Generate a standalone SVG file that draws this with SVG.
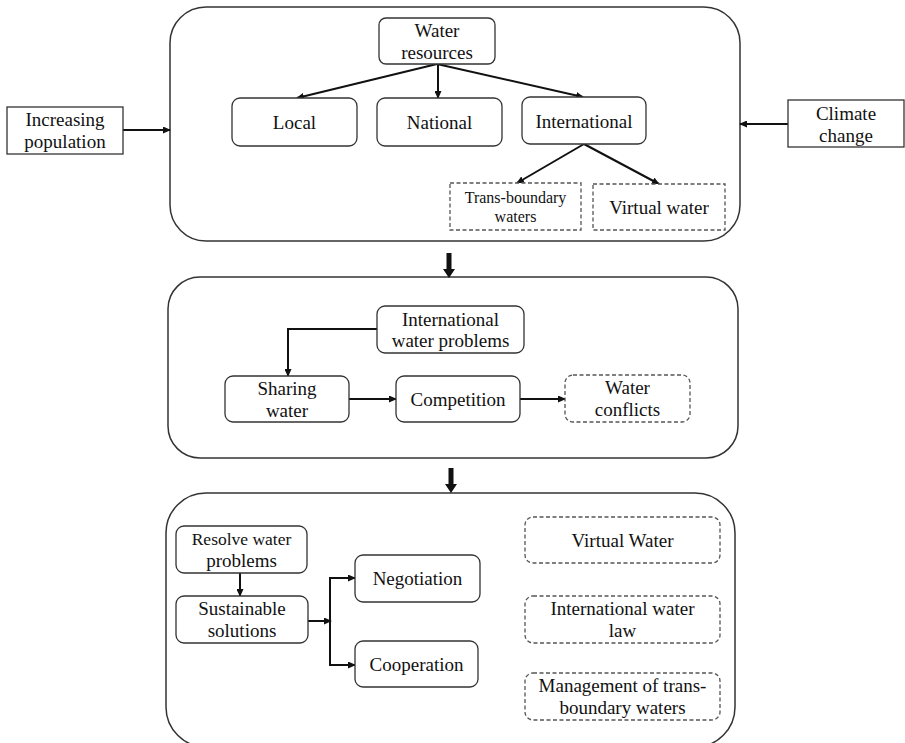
<svg xmlns="http://www.w3.org/2000/svg" width="905" height="743" viewBox="0 0 905 743">
<style>
.bg{fill:#fff}
.cont{fill:none;stroke:#333;stroke-width:1.5}
.box{fill:#fff;stroke:#333;stroke-width:1.3}
.dash{fill:#fff;stroke:#555;stroke-width:1.3;stroke-dasharray:4 2.5}
.t{font-size:19px;fill:#111;text-anchor:middle}
.s{font-size:16px}
.r{font-size:17.5px}
.c{fill:none;stroke:#111;stroke-width:2}
</style>
<defs>
<marker id="ah" markerUnits="userSpaceOnUse" markerWidth="8" markerHeight="7" refX="7" refY="3.5" orient="auto">
<path d="M0,0 L8,3.5 L0,7 z" fill="#111"/>
</marker>
<path id="thick" d="M-2.5,0 H2.5 V16 H6 L0,25 L-6,16 H-2.5 z" fill="#111"/>
</defs>
<rect class="bg" x="0" y="0" width="905" height="743"/>

<g id="containers">
<rect id="top-panel" class="cont" x="170" y="7" width="570" height="234" rx="36"/>
<rect id="middle-panel" class="cont" x="168" y="277" width="570" height="181" rx="32"/>
<rect id="bottom-panel" class="cont" x="166" y="493" width="569" height="254" rx="40"/>
</g>

<g id="connectors">
<line class="c" x1="437" y1="64" x2="297" y2="98" marker-end="url(#ah)"/>
<line class="c" x1="438" y1="64" x2="438" y2="98" marker-end="url(#ah)"/>
<line class="c" x1="437" y1="64" x2="583" y2="97" marker-end="url(#ah)"/>
<line class="c" x1="584" y1="144" x2="517" y2="183" marker-end="url(#ah)"/>
<line class="c" x1="584" y1="144" x2="659" y2="184" marker-end="url(#ah)"/>
<line class="c" x1="123" y1="130" x2="170" y2="130" marker-end="url(#ah)"/>
<line class="c" x1="788" y1="124" x2="740" y2="124" marker-end="url(#ah)"/>
<use href="#thick" x="449" y="253"/>
<use href="#thick" x="451" y="468"/>
<path class="c" d="M377,329 H288 V376" marker-end="url(#ah)"/>
<line class="c" x1="349" y1="399" x2="396" y2="399" marker-end="url(#ah)"/>
<line class="c" x1="520" y1="399" x2="565" y2="399" marker-end="url(#ah)"/>
<line class="c" x1="240" y1="573" x2="240" y2="596" marker-end="url(#ah)"/>
<line class="c" x1="308" y1="621" x2="331" y2="621" marker-end="url(#ah)"/>
<path class="c" d="M330,621 V578 H355" marker-end="url(#ah)"/>
<path class="c" d="M330,621 V665 H355" marker-end="url(#ah)"/>
</g>

<g font-family="Liberation Serif, Times New Roman, serif">
<g id="increasing-population"><rect class="box" x="7" y="107" width="116" height="47"/><text class="t" x="65" y="126">Increasing</text><text class="t" x="65" y="148">population</text></g>
<g id="climate-change"><rect class="box" x="788" y="100" width="116" height="47"/><text class="t" x="846" y="120">Climate</text><text class="t" x="846" y="142">change</text></g>

<g id="water-resources"><rect class="box" x="379" y="18" width="116" height="46" rx="7"/><text class="t" x="437" y="37">Water</text><text class="t" x="437" y="59">resources</text></g>
<g id="local"><rect class="box" x="232" y="98" width="125" height="48" rx="8"/><text class="t" x="294.5" y="129">Local</text></g>
<g id="national"><rect class="box" x="377" y="98" width="125" height="48" rx="8"/><text class="t" x="439.5" y="129">National</text></g>
<g id="international"><rect class="box" x="522" y="97" width="124" height="47" rx="8"/><text class="t" x="584" y="128">International</text></g>
<g id="trans-boundary"><rect class="dash" x="450" y="183" width="131" height="47"/><text class="t s" x="515.5" y="203">Trans-boundary</text><text class="t s" x="515.5" y="222">waters</text></g>
<g id="virtual-water"><rect class="dash" x="593" y="184" width="132" height="46"/><text class="t" x="659" y="214">Virtual water</text></g>

<g id="international-water-problems"><rect class="box" x="377" y="306" width="147" height="47" rx="8"/><text class="t" x="450.5" y="326">International</text><text class="t" x="450.5" y="347">water problems</text></g>
<g id="sharing-water"><rect class="box" x="225" y="376" width="124" height="46" rx="8"/><text class="t" x="287" y="395">Sharing</text><text class="t" x="287" y="417">water</text></g>
<g id="competition"><rect class="box" x="396" y="376" width="124" height="46" rx="8"/><text class="t" x="458" y="406">Competition</text></g>
<g id="water-conflicts"><rect class="dash" x="565" y="375" width="125" height="47" rx="8"/><text class="t" x="627.5" y="394">Water</text><text class="t" x="627.5" y="416">conflicts</text></g>

<g id="resolve-water-problems"><rect class="box" x="176" y="526" width="131" height="47" rx="8"/><text class="t r" x="241.5" y="545">Resolve water</text><text class="t" x="241.5" y="567">problems</text></g>
<g id="sustainable-solutions"><rect class="box" x="176" y="596" width="132" height="47" rx="8"/><text class="t" x="242" y="615">Sustainable</text><text class="t" x="242" y="637">solutions</text></g>
<g id="negotiation"><rect class="box" x="355" y="555" width="125" height="47" rx="8"/><text class="t" x="417.5" y="585">Negotiation</text></g>
<g id="cooperation"><rect class="box" x="355" y="641" width="123" height="46" rx="8"/><text class="t" x="416.5" y="671">Cooperation</text></g>
<g id="virtual-water-2"><rect class="dash" x="525" y="517" width="195" height="46" rx="8"/><text class="t" x="622.5" y="547">Virtual Water</text></g>
<g id="international-water-law"><rect class="dash" x="525" y="596" width="195" height="47" rx="8"/><text class="t" x="622.5" y="615">International water</text><text class="t" x="622.5" y="637">law</text></g>
<g id="management"><rect class="dash" x="525" y="673" width="195" height="47" rx="8"/><text class="t" x="622.5" y="692">Management of trans-</text><text class="t" x="622.5" y="714">boundary waters</text></g>
</g>
</svg>
